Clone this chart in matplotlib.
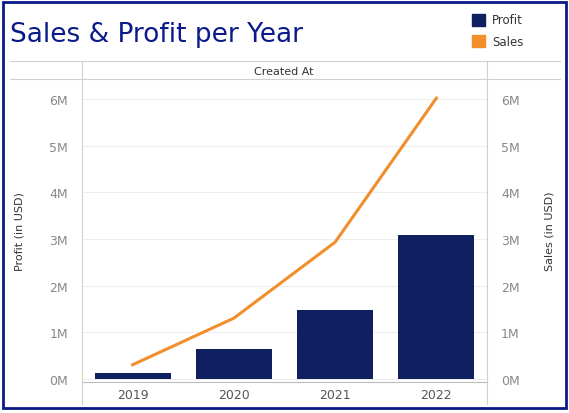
import matplotlib.pyplot as plt
from matplotlib.patches import Rectangle

NAVY = "#0b1a5c"
ORANGE = "#f28e2b"
GREY = "#888888"

years = ["2019", "2020", "2021", "2022"]
profit = [0.13e6, 0.64e6, 1.48e6, 3.08e6]
sales = [0.30e6, 1.30e6, 2.93e6, 6.02e6]
ticks = [0, 1e6, 2e6, 3e6, 4e6, 5e6, 6e6]
tick_labels = ["0M", "1M", "2M", "3M", "4M", "5M", "6M"]

W, H = 569, 414
fig = plt.figure(figsize=(W / 100, H / 100), dpi=100)

ax = fig.add_axes([82 / W, (H - 383) / H, 405 / W, 303 / H])
x = range(len(years))
ax.bar(x, profit, width=0.75, color="#0f1f5f", zorder=3)
ax2 = ax.twinx()
ax2.plot(x, sales, color=ORANGE, lw=2.2, zorder=4)

ylim = (-0.07e6, 6.43e6)
for a in (ax, ax2):
    a.set_ylim(*ylim)
    a.set_yticks(ticks)
    a.set_yticklabels(tick_labels, color=GREY, fontsize=9)
    a.tick_params(axis="y", length=0, pad=10)
    for s in a.spines.values():
        s.set_visible(False)
ax.set_xlim(-0.5, 3.5)
ax.set_xticks(list(x))
ax.set_xticklabels(years, color="#555555", fontsize=9)
ax.tick_params(axis="x", length=0, pad=4)
ax.grid(axis="y", color="#eeeeee", lw=0.8, zorder=0)
ax.spines["bottom"].set_visible(True)
ax.spines["bottom"].set_color("#bbbbbb")
ax.set_ylabel("Profit (in USD)", fontsize=8, color="#333333", labelpad=18)
ax2.set_ylabel("Sales (in USD)", fontsize=8, color="#333333", labelpad=18)

# header band and vertical dividers
for px in (82, 487):
    fig.add_artist(plt.Line2D([px / W, px / W], [(H - 405) / H, (H - 62) / H],
                              color="#d0d0d0", lw=0.8))
fig.add_artist(plt.Line2D([10 / W, 560 / W], [(H - 62) / H] * 2, color="#d0d0d0", lw=0.8))
fig.add_artist(plt.Line2D([10 / W, 560 / W], [(H - 80) / H] * 2, color="#d0d0d0", lw=0.8))
fig.text(284 / W, (H - 72) / H, "Created At", ha="center", va="center", fontsize=8, color="#333333")

# title
fig.text(10 / W, (H - 35) / H, "Sales & Profit per Year", fontsize=19, color="#0a1a8a",
         ha="left", va="center")

# legend
for i, (lab, c) in enumerate([("Profit", "#0f1f5f"), ("Sales", ORANGE)]):
    y = H - 21 - i * 21
    fig.add_artist(Rectangle((472 / W, (y - 6) / H), 13 / W, 12 / H, color=c,
                             transform=fig.transFigure))
    fig.text(492 / W, y / H, lab, fontsize=8.5, color="#333333", va="center")

# frame border
fig.add_artist(Rectangle((3 / W, 5 / H), 563 / W, 406 / H, fill=False, ec="#0a1a8a",
                         lw=2, transform=fig.transFigure))

fig.savefig("out.png", dpi=100)
